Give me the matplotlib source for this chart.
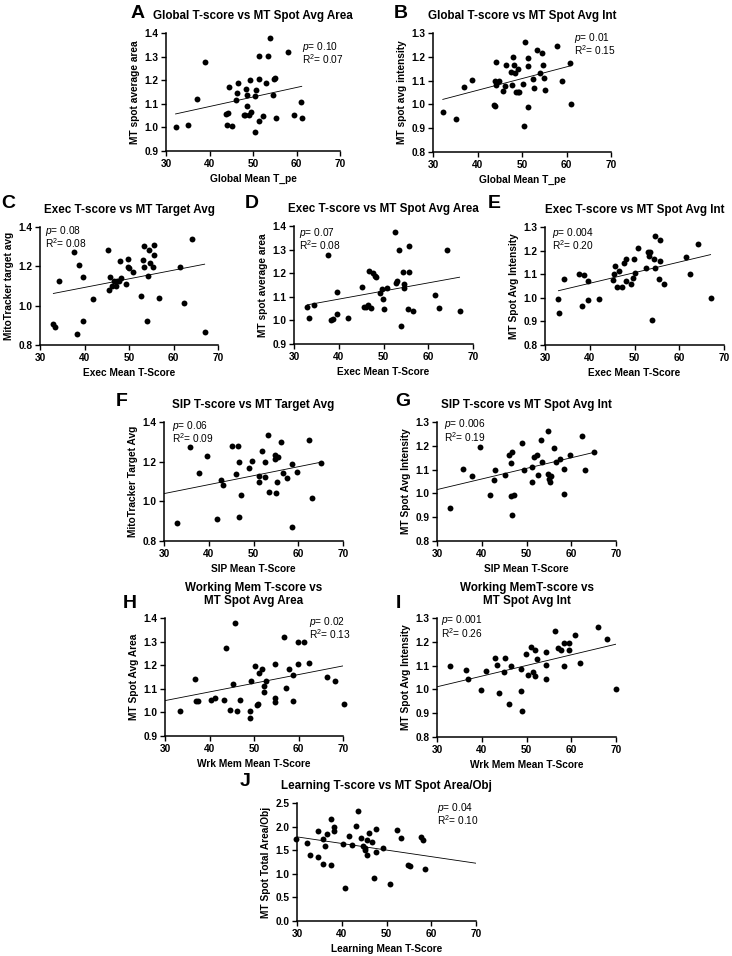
import matplotlib
matplotlib.use("Agg")
import matplotlib.pyplot as plt
import numpy as np

plt.rcParams['font.family'] = ['Liberation Sans', 'DejaVu Sans']
plt.rcParams['mathtext.fontset'] = 'custom'
plt.rcParams['mathtext.rm'] = 'Liberation Sans'
plt.rcParams['mathtext.it'] = 'Liberation Sans:italic'

# ---------------- data ----------------
# A: Global T-score vs MT spot average area
a_x = [32.2, 35.1, 37.2, 38.9, 44.4, 44.1, 45.1, 43.8, 44.3, 46.1, 46.5, 46.4, 48.4, 48.6,
       49.4, 48.6, 47.9, 48.2, 49.0, 49.5, 50.5, 50.8, 50.5, 51.4, 51.4, 51.4, 52.4, 52.9,
       53.5, 54.0, 54.5, 55.0, 54.9, 55.4, 58.1, 59.4, 61.0, 61.2]
a_y = [1.003, 1.012, 1.121, 1.277, 1.171, 1.010, 1.008, 1.056, 1.063, 1.114, 1.187, 1.144,
       1.164, 1.137, 1.199, 1.091, 1.054, 1.052, 1.052, 1.067, 1.135, 1.157, 0.979, 1.301,
       1.206, 1.029, 1.049, 1.189, 1.301, 1.377, 1.137, 1.210, 1.204, 1.039, 1.318, 1.052,
       1.107, 1.039]
a_fit_x = [32.2, 61.2]
a_fit_y = [1.057, 1.174]

# B: Global T-score vs MT spot avg intensity
b_x = [32.2, 35.1, 37.0, 38.7, 43.6, 43.9, 44.1, 44.0, 44.2, 44.8, 45.8, 46.1, 46.3, 47.6,
       47.8, 48.0, 48.3, 48.4, 48.7, 49.0, 49.1, 49.4, 50.2, 50.6, 50.5, 51.3, 51.4, 51.4,
       52.4, 52.8, 53.4, 54.0, 54.4, 54.8, 54.9, 55.2, 57.9, 59.1, 60.8, 61.1]
b_y = [0.966, 0.939, 1.073, 1.103, 0.997, 0.993, 1.180, 1.100, 1.080, 1.100, 1.057, 1.078,
       1.167, 1.135, 1.080, 1.199, 1.167, 1.130, 1.050, 1.150, 1.050, 1.050, 1.085, 1.263,
       0.911, 1.160, 1.196, 0.990, 1.106, 1.070, 1.230, 1.130, 1.215, 1.165, 1.110, 1.062,
       1.246, 1.100, 1.176, 1.000]
b_fit_x = [32.2, 61.1]
b_fit_y = [1.021, 1.163]

# C: Exec T-score vs MitoTracker target avg
c_x = [33.0, 33.4, 34.3, 37.7, 38.7, 38.3, 39.7, 39.7, 42.0, 45.3, 45.7, 45.6, 46.2, 46.6,
       47.1, 47.4, 47.7, 48.0, 48.2, 49.3, 49.7, 49.8, 50.1, 50.8, 52.6, 53.1, 53.4, 53.4,
       54.0, 54.2, 54.5, 54.8, 55.5, 55.6, 55.6, 56.7, 61.5, 62.3, 64.2, 67.0]
c_y = [0.908, 0.891, 1.125, 1.274, 1.205, 0.857, 1.145, 0.920, 1.033, 1.281, 1.144, 1.081,
       1.098, 1.127, 1.101, 1.127, 1.123, 1.227, 1.139, 1.108, 1.236, 1.198, 1.193, 1.170,
       1.048, 1.233, 1.301, 1.195, 0.922, 1.149, 1.281, 1.219, 1.198, 1.257, 1.310, 1.041,
       1.196, 1.016, 1.339, 0.868]
c_fit_x = [33.0, 67.0]
c_fit_y = [1.062, 1.211]

# D: Exec T-score vs MT spot average area
d_x = [33.0, 33.3, 34.4, 37.7, 38.3, 38.8, 39.7, 39.7, 42.0, 45.3, 45.6, 46.0, 46.6, 46.7,
       47.3, 47.7, 48.0, 48.3, 49.3, 49.7, 49.8, 50.1, 50.8, 52.5, 52.8, 53.1, 53.4, 54.0,
       54.3, 54.5, 54.6, 55.5, 55.7, 55.8, 56.7, 61.5, 62.3, 64.2, 67.0]
d_y = [1.055, 1.012, 1.066, 1.275, 1.002, 1.008, 1.121, 1.028, 1.011, 1.143, 1.056, 1.058,
       1.067, 1.211, 1.053, 1.200, 1.190, 1.186, 1.115, 1.135, 1.090, 1.048, 1.137, 1.375,
       1.160, 1.168, 1.298, 0.978, 1.205, 1.136, 1.153, 1.050, 1.316, 1.205, 1.039, 1.106,
       1.052, 1.300, 1.038]
d_fit_x = [33.0, 67.0]
d_fit_y = [1.066, 1.183]

# E: Exec T-score vs MT spot avg intensity
e_x = [33.0, 33.2, 34.3, 37.7, 38.3, 38.8, 39.7, 39.7, 42.0, 45.3, 45.5, 45.6, 46.1, 46.6,
       47.3, 47.7, 48.1, 48.2, 49.3, 49.7, 49.8, 50.1, 50.8, 52.5, 53.1, 53.3, 53.4, 54.0,
       54.3, 54.5, 54.6, 55.5, 55.7, 55.8, 56.7, 61.5, 62.3, 64.2, 67.0]
e_y = [0.997, 0.936, 1.079, 1.101, 0.965, 1.098, 1.072, 0.991, 0.993, 1.077, 1.100, 1.133,
       1.047, 1.112, 1.047, 1.148, 1.163, 1.072, 1.057, 1.083, 1.164, 1.104, 1.211, 1.128,
       1.193, 1.177, 1.194, 0.908, 1.164, 1.127, 1.260, 1.080, 1.243, 1.157, 1.059, 1.173,
       1.099, 1.226, 0.998]
e_fit_x = [33.0, 67.0]
e_fit_y = [1.030, 1.183]

# F: SIP T-score vs MitoTracker target avg
f_x = [32.9, 35.8, 37.8, 39.6, 41.8, 42.8, 43.1, 45.2, 46.0, 46.5, 46.8, 46.8, 47.3, 49.0,
       49.6, 51.3, 51.3, 51.8, 52.5, 52.5, 53.3, 53.5, 54.7, 54.8, 55.1, 55.2, 55.5, 56.2,
       56.5, 57.4, 58.5, 58.5, 59.8, 62.5, 63.0, 65.0]
f_y = [0.893, 1.273, 1.144, 1.230, 0.909, 1.108, 1.081, 1.281, 1.139, 1.281, 1.197, 0.919,
       1.034, 1.166, 1.203, 1.127, 1.095, 1.256, 1.123, 1.198, 1.336, 1.047, 1.232, 1.213,
       1.040, 1.098, 1.222, 1.297, 1.144, 1.120, 1.190, 0.871, 1.146, 1.309, 1.019, 1.193]
f_fit_x = [30.0, 65.0]
f_fit_y = [1.039, 1.197]

# G: SIP T-score vs MT spot avg intensity
g_x = [32.8, 35.8, 37.8, 39.5, 41.8, 42.7, 43.0, 45.3, 46.0, 46.5, 46.7, 46.6, 47.2, 46.8,
       49.1, 49.4, 51.2, 51.3, 51.6, 52.3, 52.5, 53.2, 53.5, 54.7, 54.7, 55.1, 55.3, 55.5,
       56.1, 56.5, 57.4, 58.4, 58.4, 59.7, 62.4, 63.0, 65.0]
g_y = [0.937, 1.101, 1.072, 1.194, 0.994, 1.058, 1.100, 1.078, 1.163, 1.128, 1.176, 0.990,
       0.993, 0.908, 1.213, 1.097, 1.111, 1.046, 1.152, 1.162, 1.079, 1.224, 1.130, 1.261,
       1.083, 1.059, 1.046, 1.072, 1.192, 1.133, 1.146, 1.104, 0.999, 1.162, 1.242, 1.100,
       1.172]
g_fit_x = [30.0, 65.0]
g_fit_y = [1.016, 1.172]

# H: Working memory T-score vs MT spot avg area
h_x = [33.4, 36.7, 36.9, 37.4, 40.3, 41.3, 43.3, 43.8, 44.6, 45.3, 45.8, 46.2, 46.8, 49.2,
       49.2, 49.3, 50.3, 50.7, 50.8, 51.2, 51.8, 52.3, 52.3, 52.8, 54.8, 54.8, 54.8, 56.8,
       57.3, 57.8, 58.8, 58.8, 59.8, 59.8, 61.3, 62.3, 66.3, 68.3, 70.3]
h_y = [1.006, 1.142, 1.050, 1.050, 1.053, 1.062, 1.053, 1.275, 1.012, 1.119, 1.377, 1.008,
       1.053, 1.007, 0.977, 1.133, 1.197, 1.033, 1.035, 1.166, 1.184, 1.111, 1.085, 1.133,
       1.204, 1.063, 1.045, 1.318, 1.103, 1.186, 1.160, 1.050, 1.298, 1.203, 1.299, 1.211,
       1.151, 1.134, 1.035]
h_fit_x = [30.0, 70.0]
h_fit_y = [1.050, 1.197]

# I: Working memory T-score vs MT spot avg intensity
i_x = [32.9, 36.4, 36.9, 39.9, 40.9, 42.9, 43.4, 43.9, 44.9, 45.3, 46.5, 46.0, 48.8, 48.8,
       49.1, 49.9, 50.4, 50.9, 51.4, 51.8, 51.9, 52.4, 54.4, 54.4, 54.4, 56.4, 57.0, 57.6,
       58.4, 58.4, 59.4, 59.4, 60.9, 61.9, 65.9, 67.9, 69.9]
i_y = [1.099, 1.081, 1.045, 0.997, 1.079, 1.134, 1.101, 0.986, 1.072, 1.130, 1.100, 0.937,
       1.085, 0.993, 0.910, 1.149, 1.059, 1.177, 1.073, 1.166, 1.056, 1.129, 1.156, 1.104,
       1.045, 1.245, 1.173, 1.165, 1.194, 1.100, 1.194, 1.165, 1.227, 1.113, 1.262, 1.213,
       1.000]
i_fit_x = [30.0, 70.0]
i_fit_y = [1.011, 1.190]

# J: Learning T-score vs MT spot total area/obj
j_x = [29.8, 32.3, 32.8, 34.8, 34.8, 35.7, 35.8, 36.3, 36.8, 37.7, 37.7, 38.3, 38.3, 40.3,
       40.7, 41.7, 42.2, 43.2, 43.7, 44.2, 44.7, 45.2, 45.2, 45.7, 45.7, 46.2, 46.7, 47.2,
       47.7, 47.7, 49.2, 50.8, 52.3, 53.2, 54.7, 55.2, 57.7, 58.2, 58.7]
j_y = [1.73, 1.66, 1.40, 1.90, 1.35, 1.74, 1.21, 1.59, 1.84, 2.16, 1.19, 2.00, 1.90, 1.64,
       0.69, 1.81, 1.60, 2.01, 2.33, 1.76, 1.59, 1.51, 1.55, 1.39, 1.71, 1.87, 1.68, 0.91,
       1.94, 1.47, 1.54, 0.78, 1.92, 1.76, 1.18, 1.16, 1.79, 1.71, 1.10]
j_fit_x = [29.8, 70.0]
j_fit_y = [1.785, 1.224]

x_ticks = [30, 40, 50, 60, 70]

# ---------------- figure ----------------
W, H = 732, 956
fig = plt.figure(figsize=(W / 100, H / 100), dpi=100)

BOLD = 'bold'


def make_axes(l, r, t, b):
    return fig.add_axes([l / W, 1 - b / H, (r - l) / W, (b - t) / H])


def panel(box, xs, ys, fx, fy, ylim, yticks, title, xlabel, ylabel, p, r2, ann_pos):
    ax = make_axes(*box)
    ax.scatter(xs, ys, s=18, color='black', zorder=3, clip_on=False, linewidths=0)
    ax.plot(fx, fy, color='black', lw=0.6, zorder=2)
    ax.set_xlim(30, 70)
    ax.set_ylim(*ylim)
    ax.set_xticks(x_ticks)
    ax.set_yticks(yticks)
    ax.set_yticklabels([f"{v:.1f}" for v in yticks])
    for s in ['top', 'right']:
        ax.spines[s].set_visible(False)
    for s in ['left', 'bottom']:
        ax.spines[s].set_linewidth(1.1)
    ax.tick_params(direction='out', length=3.5, width=1.0, labelsize=7.3, pad=2)
    for lab in ax.get_xticklabels() + ax.get_yticklabels():
        lab.set_fontweight(BOLD)
    ax.set_title(title, fontsize=8.4, fontweight=BOLD, pad=10, linespacing=1.1)
    ax.set_xlabel(xlabel, fontsize=7.3, fontweight=BOLD, labelpad=4)
    ax.set_ylabel(ylabel, fontsize=7.3, fontweight=BOLD, labelpad=3)
    ax.text(ann_pos[0], ann_pos[1], r"$\it{p}$= " + p, transform=ax.transAxes,
            fontsize=7.3, va='center', ha='left')
    ax.text(ann_pos[0], ann_pos[1] - 0.105, r"R$^2$= " + r2, transform=ax.transAxes,
            fontsize=7.3, va='center', ha='left')
    return ax


area_ticks = [0.9, 1.0, 1.1, 1.2, 1.3, 1.4]
int_ticks = [0.8, 0.9, 1.0, 1.1, 1.2, 1.3]
tgt_ticks = [0.8, 1.0, 1.2, 1.4]

panel((166, 340, 33, 151), a_x, a_y, a_fit_x, a_fit_y, (0.9, 1.4), area_ticks,
      "Global T-score vs MT Spot Avg Area", "Global Mean T_pe", "MT spot average area",
      "0.10", "0.07", (0.78, 0.88))
panel((433, 611, 33, 152), b_x, b_y, b_fit_x, b_fit_y, (0.8, 1.3), int_ticks,
      "Global T-score vs MT Spot Avg Int", "Global Mean T_pe", "MT spot avg intensity",
      "0.01", "0.15", (0.79, 0.96))
panel((40, 218, 227, 345), c_x, c_y, c_fit_x, c_fit_y, (0.8, 1.4), tgt_ticks,
      "Exec T-score vs MT Target Avg", "Exec Mean T-Score", "MitoTracker target avg",
      "0.08", "0.08", (0.03, 0.97))
panel((294, 473, 226, 344), d_x, d_y, d_fit_x, d_fit_y, (0.9, 1.4), area_ticks,
      "Exec T-score vs MT Spot Avg Area", "Exec Mean T-Score", "MT spot average area",
      "0.07", "0.08", (0.03, 0.94))
panel((545, 724, 227, 345), e_x, e_y, e_fit_x, e_fit_y, (0.8, 1.3), int_ticks,
      "Exec T-score vs MT Spot Avg Int", "Exec Mean T-Score", "MT Spot Avg Intensity",
      "0.004", "0.20", (0.04, 0.95))
panel((164, 343, 422, 541), f_x, f_y, f_fit_x, f_fit_y, (0.8, 1.4), tgt_ticks,
      "SIP T-score vs MT Target Avg", "SIP Mean T-Score", "MitoTracker Target Avg",
      "0.06", "0.09", (0.045, 0.97))
panel((437, 616, 422, 541), g_x, g_y, g_fit_x, g_fit_y, (0.8, 1.3), int_ticks,
      "SIP T-score vs MT Spot Avg Int", "SIP Mean T-Score", "MT Spot Avg Intensity",
      "0.006", "0.19", (0.04, 0.98))
panel((165, 343, 618, 736), h_x, h_y, h_fit_x, h_fit_y, (0.9, 1.4), area_ticks,
      "Working Mem T-score vs\nMT Spot Avg Area", "Wrk Mem Mean T-Score", "MT Spot Avg Area",
      "0.02", "0.13", (0.81, 0.97))
panel((437, 616, 618, 737), i_x, i_y, i_fit_x, i_fit_y, (0.8, 1.3), int_ticks,
      "Working MemT-score vs\nMT Spot Avg Int", "Wrk Mem Mean T-Score", "MT Spot Avg Intensity",
      "0.001", "0.26", (0.025, 0.98))
panel((297, 476, 803, 921), j_x, j_y, j_fit_x, j_fit_y, (0.0, 2.5), [0.0, 0.5, 1.0, 1.5, 2.0, 2.5],
      "Learning T-score vs MT Spot Area/Obj", "Learning Mean T-Score", "MT Spot Total Area/Obj",
      "0.04", "0.10", (0.78, 0.96))

letters = [("A", 138, 13), ("B", 401, 13), ("C", 8, 204), ("D", 252, 204), ("E", 494, 204),
           ("F", 122, 401), ("G", 403, 401), ("H", 130, 603), ("I", 398, 603), ("J", 245, 781)]
for t, x, y in letters:
    fig.text(x / W, 1 - y / H, t, fontsize=14, fontweight=BOLD, ha='center', va='center')

fig.savefig("out.png", dpi=100)
